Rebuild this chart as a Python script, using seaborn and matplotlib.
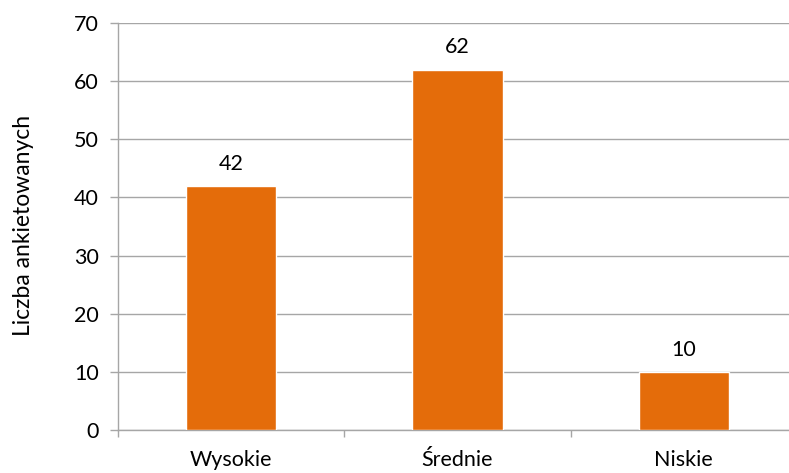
import matplotlib
matplotlib.use("Agg")
import matplotlib.pyplot as plt
import seaborn as sns
import pandas as pd

categories = ["Wysokie", "Średnie", "Niskie"]
values = [42, 62, 10]
y_ticks = [0, 10, 20, 30, 40, 50, 60, 70]
y_label = "Liczba ankietowanych"

sns.set_theme(style="white")
plt.rcParams['font.family'] = ['Lato', 'DejaVu Sans']

df = pd.DataFrame({"cat": categories, "val": values})

FS = 15.5
GRID = "#A6A6A6"
W, H = 789, 473
fig = plt.figure(figsize=(W / 100, H / 100), dpi=100)
left, right, top, bottom = 118, 797, 23, 430
ax = fig.add_axes([left / W, 1 - bottom / H, (right - left) / W, (bottom - top) / H])

sns.barplot(data=df, x="cat", y="val", color="#E46C0A", width=0.4, ax=ax, zorder=3, saturation=1)

ax.set_ylim(0, 70)
ax.set_xlim(-0.5, 2.5)
ax.set_yticks(y_ticks)
ax.set_yticklabels([str(t) for t in y_ticks], fontsize=FS, color="#000000")
ax.yaxis.grid(True, color=GRID, linewidth=1.0, zorder=0)
ax.set_axisbelow(True)

ax.set_xticks([0, 1, 2])
ax.set_xticklabels(categories, fontsize=FS, color="#000000")
ax.set_xticks([-0.5, 0.5, 1.5, 2.5], minor=True)
ax.tick_params(axis="x", which="major", bottom=False, length=0, pad=14.5)
ax.tick_params(axis="x", which="minor", bottom=True, length=5, width=1.0, color=GRID, direction="out")
ax.tick_params(axis="y", left=True, length=5.8, width=1.0, color=GRID, direction="out", pad=8)

for s in ["top", "right"]:
    ax.spines[s].set_visible(False)
for s in ["left", "bottom"]:
    ax.spines[s].set_color(GRID)
    ax.spines[s].set_linewidth(1.0)

ax.set_xlabel("")
ax.set_ylabel("")
fig.text(24 / W, 1 - 225 / H, y_label, rotation=90, ha="center", va="center",
         fontsize=16.5, color="#000000")

for i, v in enumerate(values):
    ax.text(i, v + 2.8, str(v), ha="center", va="baseline", fontsize=FS, color="#000000")

fig.savefig("out.png", dpi=100)
